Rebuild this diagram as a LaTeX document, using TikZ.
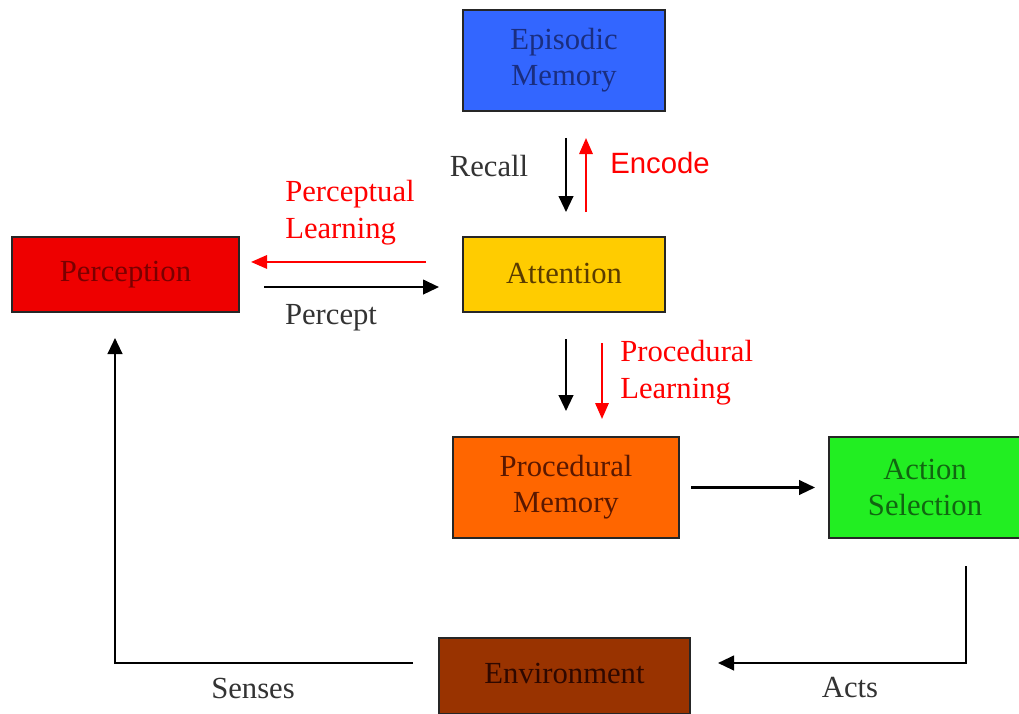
\documentclass[tikz,border=0pt]{standalone}
\usepackage{fontspec}
\setmainfont{Liberation Serif}
\newfontfamily\encfont{Liberation Sans}
\usetikzlibrary{arrows.meta}
\definecolor{epiC}{HTML}{3366FF}
\definecolor{epiT}{HTML}{1A2E80}
\definecolor{perC}{HTML}{EE0000}
\definecolor{perT}{HTML}{7A0000}
\definecolor{attC}{HTML}{FFCC00}
\definecolor{attT}{HTML}{5A3C00}
\definecolor{proC}{HTML}{FF6600}
\definecolor{proT}{HTML}{5A1800}
\definecolor{actC}{HTML}{22EE22}
\definecolor{actT}{HTML}{116611}
\definecolor{envC}{HTML}{993300}
\definecolor{envT}{HTML}{2E0800}
\definecolor{lblT}{HTML}{333333}
\definecolor{redA}{HTML}{FF0000}
\tikzset{
  box/.style={draw=black!85, line width=1.5pt, inner sep=0pt, align=center,
    font=\fontsize{23}{27}\selectfont},
  arr/.style={line width=1.6pt, draw=black, -{Triangle[length=12pt,width=11pt]}},
  rarr/.style={line width=1.6pt, draw=redA, -{Triangle[length=12pt,width=10pt]}},
  lbl/.style={text=lblT, font=\fontsize{23}{27}\selectfont, inner sep=0pt},
  rlbl/.style={text=redA, font=\fontsize{23}{27.75}\selectfont, inner sep=0pt, align=left},
}
\begin{document}
\begin{tikzpicture}[x=0.75pt,y=-0.75pt]
\useasboundingbox[fill=white] (0,0) rectangle (1019,713);
\node[box, fill=epiC, text=epiT, minimum width=151.5pt, minimum height=75.75pt] (epi) at (564,60.5) {Episodic\\Memory};
\node[box, fill=perC, text=perT, minimum width=170.25pt, minimum height=56.25pt] (per) at (125.5,274.5) {\raisebox{2pt}{Perception}};
\node[box, fill=attC, text=attT, minimum width=151.5pt, minimum height=56.25pt] (att) at (564,274.5) {\raisebox{2pt}{Attention}};
\node[box, fill=proC, text=proT, minimum width=169.5pt, minimum height=75.75pt] (pro) at (566,487.5) {Procedural\\Memory};
\node[box, fill=actC, text=actT, minimum width=144pt, minimum height=75.75pt] (act) at (925,487.5) {Action\\Selection};
\node[box, fill=envC, text=envT, minimum width=188.25pt, minimum height=57pt] (env) at (564.5,676) {\raisebox{4pt}{Environment}};

% Recall / Encode
\draw[arr, shorten <=19.5pt, shorten >=18pt] ([xshift=1.5pt]epi.south) -- ([xshift=1.5pt]att.north);
\draw[rarr, shorten <=18pt, shorten >=19.5pt] ([xshift=16.5pt]att.north) -- ([xshift=16.5pt]epi.south);
\node[lbl] (recall) at (489,166) {Recall};
\node[text=redA, font=\encfont\fontsize{22}{26}\selectfont, inner sep=0pt] (encode) at (660,163) {Encode};

% Perceptual learning / Percept
\draw[rarr, shorten <=27pt, shorten >=8.25pt] ([yshift=9.4pt]att.west) -- ([yshift=9.4pt]per.east);
\node[rlbl, anchor=west] (plearn) at (285,213) {Perceptual\\Learning};
\draw[arr, shorten <=18pt, shorten >=17.25pt] ([yshift=-9.4pt]per.east) -- ([yshift=-9.4pt]att.west);
\node[lbl] (percept) at (331,318) {Percept};

% Attention -> Procedural
\draw[arr, shorten <=19.5pt, shorten >=18.75pt] (pro.north |- att.south) -- (pro.north);
\draw[rarr, shorten <=22.5pt, shorten >=12.75pt] ([xshift=27pt]pro.north |- att.south) -- ([xshift=27pt]pro.north);
\node[rlbl, anchor=west] (prlearn) at (620,373) {Procedural\\Learning};

% Procedural -> Action
\draw[arr, shorten <=8.25pt, shorten >=9.75pt] (pro.east) -- (act.west);

% Action -> Environment
\draw[arr] ([xshift=30.75pt,yshift=-20.25pt]act.south) |- ([xshift=20.25pt,yshift=9.75pt]env.east);
\node[lbl] (acts) at (850,688) {Acts};

% Environment -> Perception
\draw[arr] ([xshift=-18.75pt,yshift=9.75pt]env.west) -| ([xshift=-7.875pt,yshift=-18.75pt]per.south);
\node[lbl] (senses) at (253,688) {Senses};
\end{tikzpicture}
\end{document}
